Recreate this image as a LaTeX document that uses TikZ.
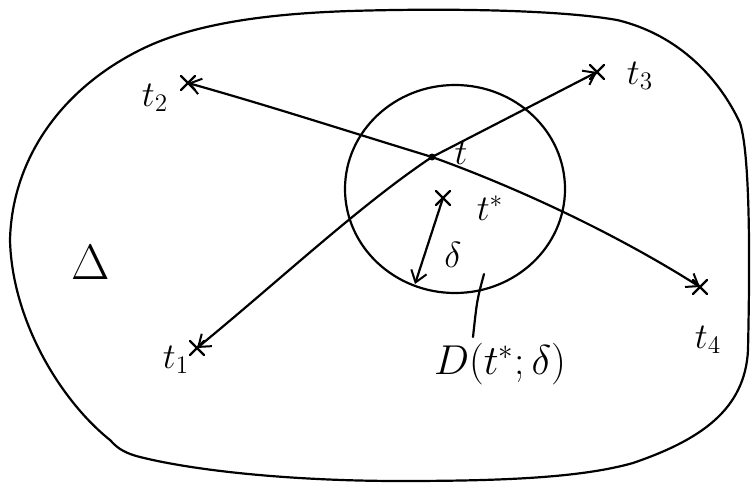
\documentclass[tikz,border=0pt]{standalone}
\usetikzlibrary{arrows.meta}
\begin{document}
\begin{tikzpicture}[x=1pt,y=-1pt,line width=2.2pt,line cap=round,line join=round,
  lbl/.style={inner sep=0pt,font=\huge,scale=1.75},
  arr/.style={-{Straight Barb[length=11pt,width=16pt,line width=2pt]}}]
\useasboundingbox (0,0) rectangle (751,484);
% outer region
\draw (10,240) .. controls (12,160) and (60,90) .. (140,50)
  .. controls (190,25) and (260,14) .. (350,11)
  .. controls (450,8) and (560,10) .. (617,20)
  .. controls (680,35) and (720,80) .. (740,123)
  .. controls (752,160) and (749,300) .. (748,350)
  .. controls (745,410) and (700,440) .. (633,463)
  .. controls (580,478) and (500,481) .. (400,481)
  .. controls (300,481) and (200,472) .. (140,457)
  .. controls (120,452) and (115,445) .. (110,440)
  .. controls (60,400) and (12,320) .. cycle;
% disc
\draw (455,189) ellipse [x radius=110,y radius=104];
% points
\coordinate (t) at (432,157);
\coordinate (t1) at (197,348);
\coordinate (t2) at (188,83);
\coordinate (t3) at (597,72);
\coordinate (t4) at (700,287);
\coordinate (ts) at (443,198);
\coordinate (rb) at (415,284);
\coordinate (lt) at (484,274);
\coordinate (lb) at (473,337);
% connectors
\draw[arr] (t) .. controls (350,132) and (270,106) .. (t2);
\draw[arr] (t) -- (t3);
\draw[arr] (t) .. controls (510,185) and (610,230) .. (t4);
\draw[arr] (t) .. controls (360,205) and (280,280) .. (t1);
\draw[arr] (ts) -- (rb);
\draw (lt) .. controls (477,300) .. (lb);
% cross marks
\foreach \p in {t1,t2,t3,t4,ts}{
  \draw ([shift={(-7,-7)}]\p) -- ([shift={(7,7)}]\p);
  \draw ([shift={(-7,7)}]\p) -- ([shift={(7,-7)}]\p);
}
\fill (t) circle (3.5);
% labels
\node[lbl] (lt2) at (155,98) {$t_2$};
\node[lbl] (lt3) at (640,76) {$t_3$};
\node[lbl] (lt4) at (708,340) {$t_4$};
\node[lbl] (lt1) at (176,360) {$t_1$};
\node[lbl] (ltt) at (461,153) {$t$};
\node[lbl] (ltstar) at (490,208) {$t^*$};
\node[lbl] (ldelta) at (453,255) {$\delta$};
\node[lbl,scale=1.15] (lD) at (500,364) {$D(t^*;\delta)$};
\node[inner sep=0pt,font=\huge,scale=2.4] (lDelta) at (91,262) {$\Delta$};
\end{tikzpicture}
\end{document}
